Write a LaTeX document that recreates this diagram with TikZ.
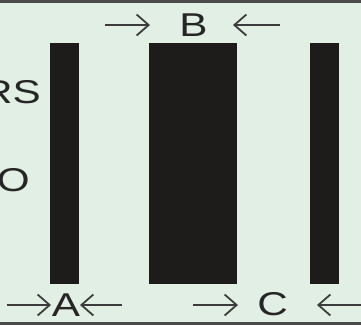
\documentclass[tikz,border=0pt]{standalone}
\usepackage{fontspec}
\setmainfont{Liberation Sans}
\usetikzlibrary{arrows.meta}
\definecolor{bg}{HTML}{E2EFE5}
\definecolor{barc}{HTML}{1E1B1B}
\definecolor{linec}{HTML}{3C3C3C}
\definecolor{edge}{HTML}{4A4A4A}
\begin{document}
\begin{tikzpicture}[x=1pt,y=1pt,
  bar/.style={fill=barc,draw=none,inner sep=0pt,anchor=north west},
  lbl/.style={inner sep=0pt,font=\fontsize{33}{33}\selectfont,text=black!85,xscale=1.28},
  pointer/.style={draw=linec,line width=1.8pt,-{Straight Barb[length=12pt,width=21pt,line width=1.8pt]}}]
\useasboundingbox (0,0) rectangle (361,-325);
\begin{scope}
\clip (0,0) rectangle (361,-325);
\fill[bg] (0,0) rectangle (361,-325);
\fill[edge] (0,0) rectangle (361,-3);
\fill[edge] (0,-322) rectangle (361,-325);
% bars
\node[bar,minimum width=29pt,minimum height=241pt] (barA) at (50,-43) {};
\node[bar,minimum width=88pt,minimum height=241pt] (barB) at (149,-43) {};
\node[bar,minimum width=29pt,minimum height=241pt] (barC) at (310,-43) {};
% side texts (cut off on the left, as in the reference)
\node[lbl,anchor=east] (rs) at (41,-92) {RS};
\node[lbl,anchor=east] (o) at (30,-180) {O};
% labels
\node[lbl] (B) at (193.5,-25.5) {B};
\node[lbl] (A) at (66,-305) {A};
\node[lbl] (C) at (272.5,-304) {C};
% arrows
\coordinate (b1) at (105,-25);
\coordinate (b1t) at (150,-25);
\coordinate (b2) at (280,-25);
\coordinate (b2t) at (233,-25);
\coordinate (a1) at (7,-305);
\coordinate (a1t) at (51,-305);
\coordinate (a2) at (122,-305);
\coordinate (a2t) at (80,-305);
\coordinate (c1) at (193,-305);
\coordinate (c1t) at (238,-305);
\coordinate (c2) at (366,-305);
\coordinate (c2t) at (317,-305);
\draw[pointer] (b1) -- (b1t);
\draw[pointer] (b2) -- (b2t);
\draw[pointer] (a1) -- (a1t);
\draw[pointer] (a2) -- (a2t);
\draw[pointer] (c1) -- (c1t);
\draw[pointer] (c2) -- (c2t);
\end{scope}
\end{tikzpicture}
\end{document}
